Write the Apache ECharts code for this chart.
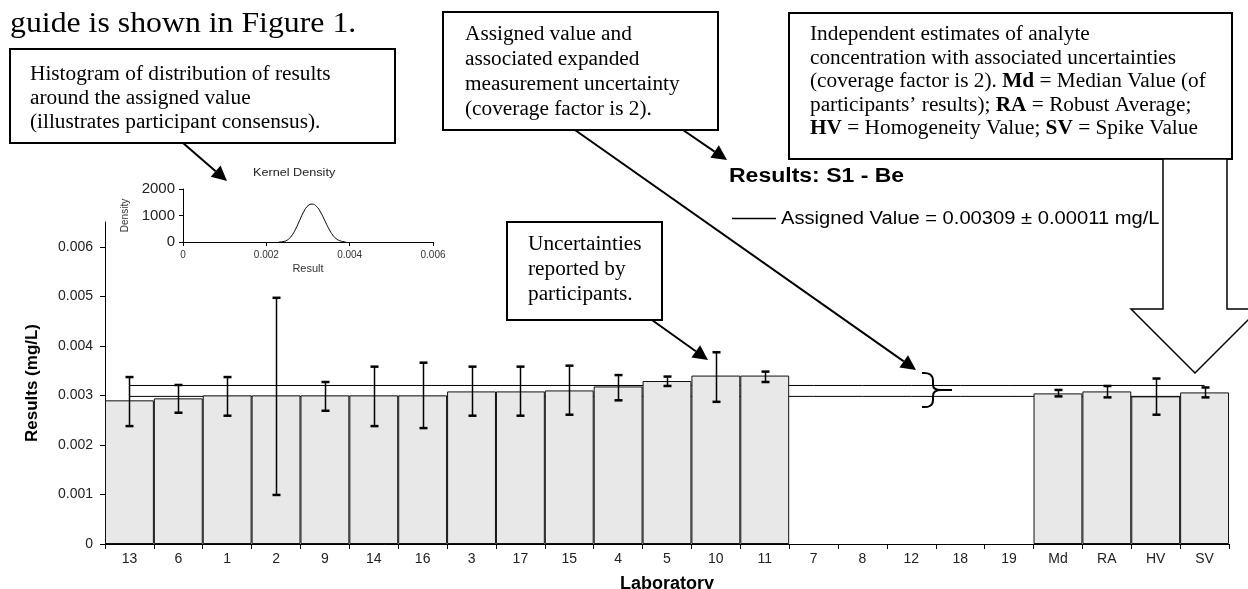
<!DOCTYPE html>
<html><head><meta charset="utf-8">
<script src="https://cdn.jsdelivr.net/npm/echarts@6/dist/echarts.min.js"></script>
<style>html,body{margin:0;padding:0;background:#fff}#c{width:1248px;height:589px}</style>
</head><body><div id="c"></div>
<script>
// ---- data ----
const labs = ['13','6','1','2','9','14','16','3','17','15','4','5','10','11','7','8','12','18','19','Md','RA','HV','SV'];
const results = [0.0029,0.00294,0.003,0.003,0.003,0.003,0.003,0.00308,0.00308,0.0031,0.00318,0.00329,0.0034,0.0034,null,null,null,null,null,0.00304,0.00308,0.00298,0.00306];
const errHigh = [0.00337,0.00321,0.00337,0.00497,0.00327,0.00358,0.00366,0.00358,0.00358,0.0036,0.00341,0.00338,0.00387,0.00348,null,null,null,null,null,0.00311,0.00319,0.00334,0.00316];
const errLow  = [0.00238,0.00265,0.00259,0.00099,0.00269,0.00238,0.00234,0.00259,0.00259,0.00261,0.0029,0.00319,0.00287,0.00327,null,null,null,null,null,0.00298,0.00296,0.00261,0.00296];
const assignedHigh = 0.0032;
const assignedLow = 0.00298;
const yTicks = [0,0.001,0.002,0.003,0.004,0.005,0.006];
const densX = [0.0023,0.0024,0.0025,0.0026,0.0027,0.0028,0.0029,0.0030,0.0031,0.0032,0.0033,0.0034,0.0035,0.0036,0.0037,0.0038,0.0039];
const densY = [0,15,70,220,480,820,1150,1370,1430,1350,1130,820,500,250,100,30,5];

const SANS = 'Liberation Sans, Arial, sans-serif';
const SERIF = 'Liberation Serif, Times New Roman, serif';

const chart = echarts.init(document.getElementById('c'), null, {renderer:'canvas'});

function arrow(x1,y1,x2,y2){
  const ang = Math.atan2(y2-y1,x2-x1), L=15, W=7.5;
  const bx = x2 - L*Math.cos(ang), by = y2 - L*Math.sin(ang);
  const px = -Math.sin(ang)*W, py = Math.cos(ang)*W;
  return [
    {type:'line', shape:{x1:x1,y1:y1,x2:bx,y2:by}, style:{stroke:'#000',lineWidth:2}, z:100},
    {type:'polygon', shape:{points:[[x2,y2],[bx+px,by+py],[bx-px,by-py]]}, style:{fill:'#000'}, z:100}
  ];
}
const SX = 1.065;
function box(x,y,w,h,lines,tx,ty0,dy,fs){
  const els = [{type:'rect', shape:{x:x,y:y,width:w,height:h}, style:{fill:'#fff',stroke:'#000',lineWidth:2}, z:90}];
  lines.forEach((ln,i)=>{
    els.push({type:'text', x:tx, y:ty0+i*dy, scaleX:SX, z:95, style:{rich:ln.rich||undefined, text:ln.text, font:fs+'px '+SERIF, fill:'#000', verticalAlign:'middle', align:'left'}});
  });
  return els;
}
function richLine(parts, fs){
  let t=''; const rich={n:{fontFamily:SERIF,fontSize:fs,fill:'#000'}, b:{fontFamily:SERIF,fontSize:fs,fontWeight:'bold',fill:'#000'}};
  parts.forEach(p=>{ t += '{'+(p[1]?'b':'n')+'|'+p[0]+'}'; });
  return {text:t, rich:rich};
}

const FS = 20;
let graphics = [];
graphics.push({type:'text', x:10, y:24, scaleX:1.06, z:95, style:{text:'guide is shown in Figure 1.', font:'30px '+SERIF, fill:'#000', verticalAlign:'middle'}});
graphics = graphics.concat(box(10,49,385,94,[
  {text:'Histogram of distribution of results'},{text:'around the assigned value'},{text:'(illustrates participant consensus).'}],30,75,24,FS));
graphics = graphics.concat(box(443,12,275,118,[
  {text:'Assigned value and'},{text:'associated expanded'},{text:'measurement uncertainty'},{text:'(coverage factor is 2).'}],465,35,25,FS));
graphics = graphics.concat(box(789,13,443,146,[
  {text:'Independent estimates of analyte'},
  {text:'concentration with associated uncertainties'},
  richLine([['(coverage factor is 2). ',0],['Md',1],[' = Median Value (of',0]],FS),
  richLine([['participants\u2019 results); ',0],['RA',1],[' = Robust Average;',0]],FS),
  richLine([['HV',1],[' = Homogeneity Value; ',0],['SV',1],[' = Spike Value',0]],FS)],810,35,23.5,FS));
graphics = graphics.concat(box(507,222,155,98,[
  {text:'Uncertainties'},{text:'reported by'},{text:'participants.'}],528,245,25,FS));
graphics = graphics.concat(arrow(183,143,227,181));
graphics = graphics.concat(arrow(683,130,727,160));
graphics = graphics.concat(arrow(575,130,916,370));
graphics = graphics.concat(arrow(652,320,708,360));
graphics.push({type:'polygon', z:90, shape:{points:[[1163,159],[1163,309],[1131,309],[1195,373],[1259,309],[1227,309],[1227,159]]}, style:{fill:'#fff',stroke:'#000',lineWidth:1.5}});
// curly brace
const braceStyle = {fill:'none',stroke:'#000',lineWidth:2};
graphics.push({type:'bezierCurve', z:90, shape:{x1:922,y1:373,cpx1:933,cpy1:372,x2:933,y2:381}, style:braceStyle});
graphics.push({type:'line', z:90, shape:{x1:933,y1:381,x2:933,y2:385}, style:braceStyle});
graphics.push({type:'bezierCurve', z:90, shape:{x1:933,y1:385,cpx1:933,cpy1:390,x2:941,y2:390}, style:braceStyle});
graphics.push({type:'line', z:90, shape:{x1:941,y1:390,x2:952,y2:390}, style:braceStyle});
graphics.push({type:'bezierCurve', z:90, shape:{x1:941,y1:390,cpx1:933,cpy1:390,x2:933,y2:396}, style:braceStyle});
graphics.push({type:'line', z:90, shape:{x1:933,y1:396,x2:933,y2:400}, style:braceStyle});
graphics.push({type:'bezierCurve', z:90, shape:{x1:933,y1:400,cpx1:933,cpy1:408,x2:922,y2:407}, style:braceStyle});

graphics.push({type:'text', x:729, y:176, scaleX:1.15, z:95, style:{text:'Results: S1 - Be', font:'bold 20px '+SANS, fill:'#000', verticalAlign:'middle'}});
graphics.push({type:'line', z:95, shape:{x1:732,y1:218.5,x2:776,y2:218.5}, style:{stroke:'#000',lineWidth:1.5}});
graphics.push({type:'text', x:781, y:219, scaleX:1.12, z:95, style:{text:'Assigned Value = 0.00309 \u00b1 0.00011 mg/L', font:'18px '+SANS, fill:'#000', verticalAlign:'middle'}});
graphics.push({type:'text', x:253, y:173, scaleX:1.15, z:95, style:{text:'Kernel Density', font:'11px '+SANS, fill:'#222', verticalAlign:'middle', align:'left'}});

const errSeriesData = labs.map((l,i)=>[i, errHigh[i], errLow[i]]).filter(d=>d[1]!=null);

const option = {
  animation:false,
  backgroundColor:'#fff',
  graphic: graphics,
  grid:[
    {left:105, right:19, top:222, bottom:45, outerBoundsMode:'none', containLabel:false},
    {left:183, top:189, width:250, height:53, outerBoundsMode:'none', containLabel:false}
  ],
  xAxis:[
    {type:'category', data:labs, gridIndex:0, boundaryGap:true,
     axisLine:{lineStyle:{color:'#000',width:1}},
     axisTick:{show:true, length:5, lineStyle:{color:'#000'}},
     axisLabel:{color:'#222', fontSize:14, fontFamily:SANS, margin:8, interval:0},
     name:'Laboratory', nameLocation:'middle', nameGap:31,
     nameTextStyle:{fontFamily:SANS, fontWeight:'bold', fontSize:18, color:'#000'}},
    {type:'value', gridIndex:1, min:0, max:0.006, interval:0.002,
     axisLine:{show:true, lineStyle:{color:'#000'}}, splitLine:{show:false},
     axisTick:{show:true, length:4, lineStyle:{color:'#000'}},
     axisLabel:{color:'#333', fontSize:10, fontFamily:SANS, margin:8,
       formatter:v=> v===0?'0':v.toFixed(3)},
     name:'Result', nameLocation:'middle', nameGap:21,
     nameTextStyle:{fontFamily:SANS, fontSize:11, color:'#333'}}
  ],
  yAxis:[
    {type:'value', gridIndex:0, min:0, max:0.0065, interval:0.001,
     axisLine:{show:true, lineStyle:{color:'#000'}}, splitLine:{show:false},
     axisTick:{show:true, length:5, lineStyle:{color:'#000'}, customValues:yTicks},
     axisLabel:{color:'#222', fontSize:14, fontFamily:SANS, margin:12, customValues:yTicks,
       formatter:v=> v===0?'0':v.toFixed(3)},
     name:'Results (mg/L)', nameLocation:'middle', nameGap:64, nameRotate:90,
     nameTextStyle:{fontFamily:SANS, fontWeight:'bold', fontSize:17, color:'#000'}},
    {type:'value', gridIndex:1, min:0, max:2000, interval:1000,
     axisLine:{show:true, lineStyle:{color:'#000'}}, splitLine:{show:false},
     axisTick:{show:true, length:4, lineStyle:{color:'#000'}},
     axisLabel:{color:'#222', fontSize:15, fontFamily:SANS, margin:8, formatter:v=>String(v)},
     name:'Density', nameLocation:'middle', nameGap:53, nameRotate:90,
     nameTextStyle:{fontFamily:SANS, fontSize:10, color:'#333'}}
  ],
  series:[
    {type:'line', xAxisIndex:0, yAxisIndex:0, data:labs.map(()=>assignedHigh), symbol:'none',
     lineStyle:{color:'#000',width:1}, z:1, silent:true},
    {type:'line', xAxisIndex:0, yAxisIndex:0, data:labs.map(()=>assignedLow), symbol:'none',
     lineStyle:{color:'#000',width:1}, z:1, silent:true},
    {type:'bar', xAxisIndex:0, yAxisIndex:0, data:results, barWidth:'100%', barGap:'0%',
     itemStyle:{color:'#e8e8e8', borderColor:'#111', borderWidth:1}, z:3},
    {type:'custom', xAxisIndex:0, yAxisIndex:0, data:errSeriesData, z:5,
     renderItem:function(params, api){
       const x = api.value(0);
       const hi = api.coord([x, api.value(1)]);
       const lo = api.coord([x, api.value(2)]);
       const cx = Math.round(hi[0])+0.5, w=4;
       return {type:'group', children:[
         {type:'line', shape:{x1:cx,y1:hi[1],x2:cx,y2:lo[1]}, style:{stroke:'#000',lineWidth:1.5}},
         {type:'line', shape:{x1:cx-w,y1:hi[1],x2:cx+w,y2:hi[1]}, style:{stroke:'#000',lineWidth:2.5}},
         {type:'line', shape:{x1:cx-w,y1:lo[1],x2:cx+w,y2:lo[1]}, style:{stroke:'#000',lineWidth:2.5}}
       ]};
     }},
    {type:'line', xAxisIndex:1, yAxisIndex:1, data:densX.map((x,i)=>[x,densY[i]]), smooth:true,
     symbol:'none', lineStyle:{color:'#000',width:1}, z:5}
  ]
};
chart.setOption(option);
</script></body></html>
